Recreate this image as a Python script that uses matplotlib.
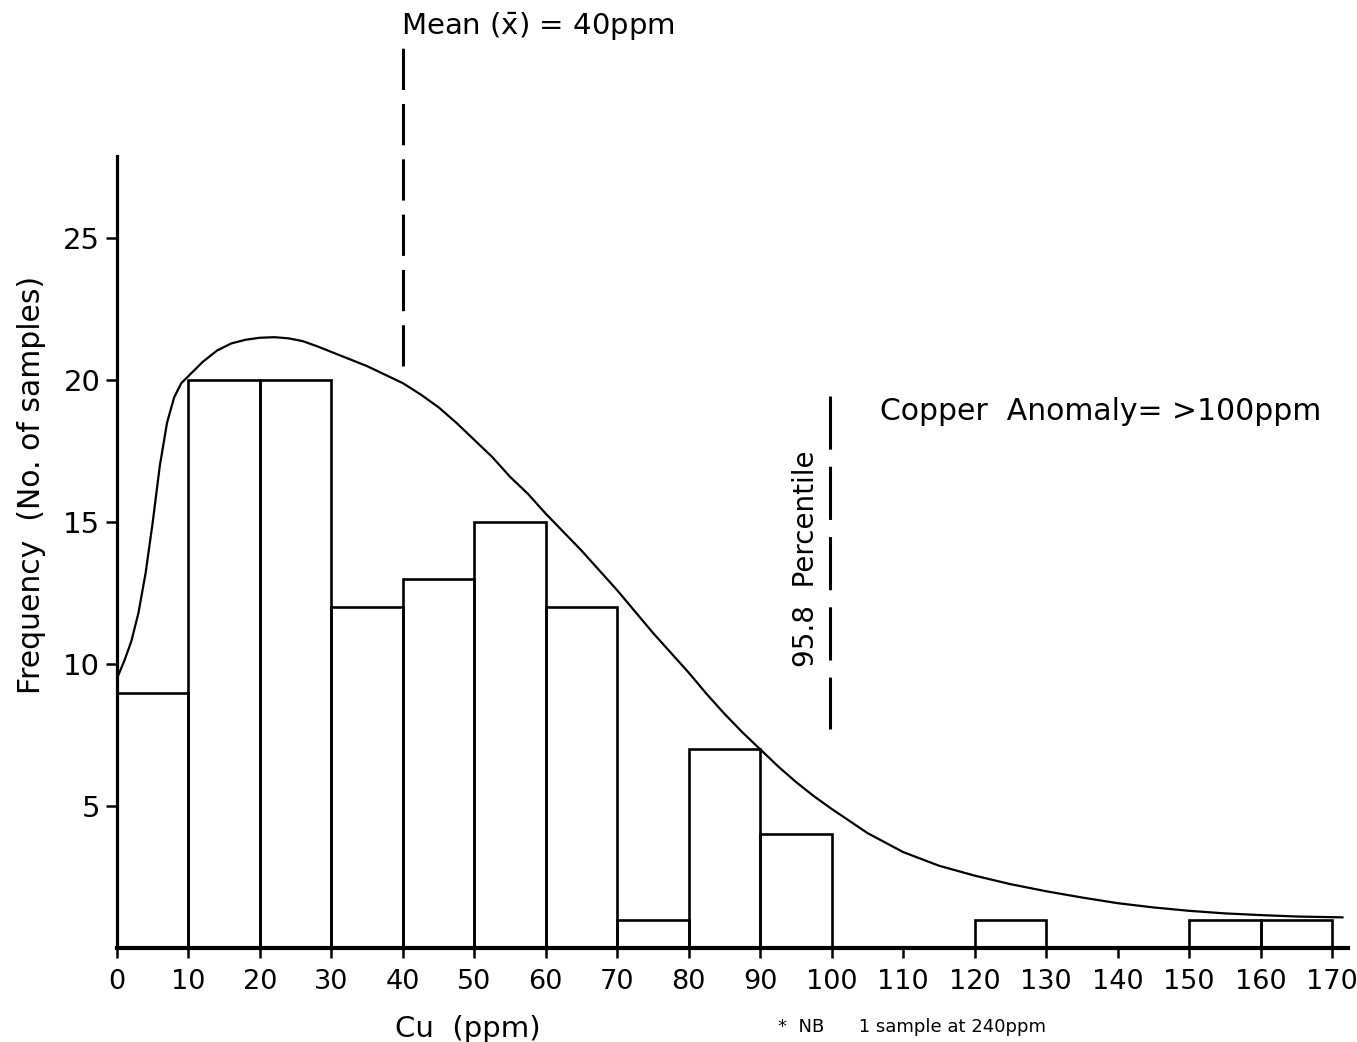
import matplotlib.pyplot as plt
import numpy as np

plt.rcParams['font.family'] = 'DejaVu Sans'
plt.rcParams['mathtext.default'] = 'regular'

# histogram of Cu values (bin left edges, counts), 10 ppm bins
bin_left = [0, 10, 20, 30, 40, 50, 60, 70, 80, 90, 120, 150, 160]
counts = [9, 20, 20, 12, 13, 15, 12, 1, 7, 4, 1, 1, 1]

# hand-drawn frequency curve
curve_x = [0, 1, 2, 3, 4, 5, 6, 7, 8, 9, 10, 11, 12, 14, 16, 18, 20, 22, 24, 26,
           28, 30, 32.5, 35, 37.5, 40, 42.5, 45, 47.5, 50, 52.5, 55, 57.5, 60,
           62.5, 65, 67.5, 70, 72.5, 75, 77.5, 80, 82.5, 85, 87.5, 90, 92.5, 95,
           97.5, 100, 105, 110, 115, 120, 125, 130, 135, 140, 145, 150, 155, 160,
           165, 171.5]
curve_y = [9.5, 10.1, 10.8, 11.8, 13.2, 15.0, 17.0, 18.5, 19.4, 19.9, 20.15, 20.4,
           20.65, 21.05, 21.3, 21.43, 21.5, 21.52, 21.48, 21.38, 21.2, 21.0, 20.75,
           20.5, 20.2, 19.9, 19.5, 19.05, 18.5, 17.9, 17.3, 16.6, 16.0, 15.3,
           14.65, 14.0, 13.3, 12.6, 11.85, 11.1, 10.4, 9.7, 8.95, 8.25, 7.6, 7.0,
           6.4, 5.85, 5.35, 4.9, 4.05, 3.38, 2.9, 2.55, 2.25, 2.0, 1.78, 1.58,
           1.43, 1.31, 1.22, 1.16, 1.11, 1.08]

x_ticks = list(range(0, 171, 10))
y_ticks = [5, 10, 15, 20, 25]

mean_cu = 40
pct_cu = 99.7

fig = plt.figure(figsize=(13.57, 10.42), dpi=100)
ax = fig.add_axes([0.0862, 0.0902, 0.9075, 0.760])

ax.bar(bin_left, counts, width=10, align='edge', fill=False,
       edgecolor='black', linewidth=1.9)
ax.plot(curve_x, curve_y, color='black', linewidth=1.6,
        solid_joinstyle='round', solid_capstyle='round')

# mean line (runs above the plot area)
ax.plot([mean_cu, mean_cu], [20.5, 31.7], color='black', linewidth=2.2,
        linestyle=(0, (13.5, 4.6)), clip_on=False)
ax.text(mean_cu - 0.3, 32.5, r'Mean ($\bar{x}$) = 40ppm', fontsize=21,
        ha='left', va='center')

# 95.8 percentile line
ax.plot([pct_cu, pct_cu], [19.45, 7.7], color='black', linewidth=2.2,
        linestyle=(0, (17.4, 5.6)))
ax.text(96.4, 13.7, '95.8  Percentile', rotation=90, fontsize=20,
        ha='center', va='center')
ax.text(106.8, 18.9, 'Copper  Anomaly= >100ppm', fontsize=21.5,
        ha='left', va='center')

ax.set_xlim(0, 172.3)
ax.set_ylim(0, 27.9)
ax.spines['top'].set_visible(False)
ax.spines['right'].set_visible(False)
ax.spines['left'].set_linewidth(2.3)
ax.spines['bottom'].set_linewidth(3)

ax.set_xticks(x_ticks)
ax.set_xticklabels([str(v) for v in x_ticks], fontsize=19.5)
ax.set_yticks(y_ticks)
ax.set_yticklabels([str(v) for v in y_ticks], fontsize=21)
ax.tick_params(axis='x', direction='out', length=7, width=1.8, pad=8)
ax.tick_params(axis='y', direction='out', length=8, width=1.8, pad=4)

ax.set_xlabel('Cu  (ppm)', fontsize=21, labelpad=6)
ax.xaxis.set_label_coords(0.285, -0.085)
ax.set_ylabel('Frequency  (No. of samples)', fontsize=21.5)
ax.yaxis.set_label_coords(-0.058, 0.585)

fig.text(0.573, 0.014, '*  NB      1 sample at 240ppm', fontsize=13,
         ha='left', va='center')

plt.savefig('out.png', dpi=100)
